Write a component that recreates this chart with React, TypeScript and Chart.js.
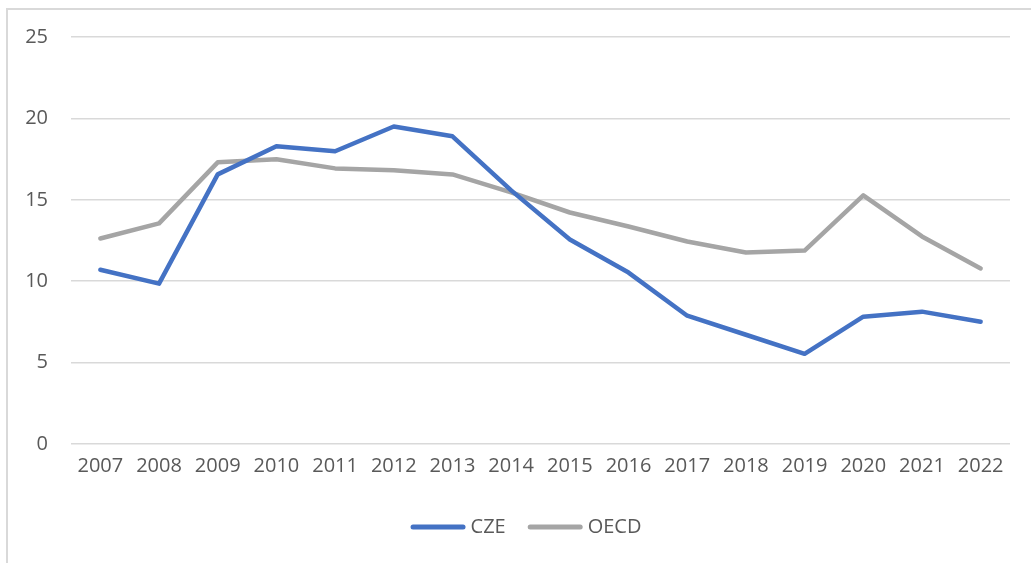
import React, { useEffect, useRef } from "react";
import { Chart, registerables } from "chart.js";

Chart.register(...registerables);

const years = ["2007","2008","2009","2010","2011","2012","2013","2014","2015","2016","2017","2018","2019","2020","2021","2022"];
const cze = [10.7, 9.85, 16.56, 18.29, 17.98, 19.5, 18.9, 15.58, 12.56, 10.53, 7.88, 6.71, 5.54, 7.82, 8.13, 7.51];
const oecd = [12.62, 13.55, 17.3, 17.49, 16.93, 16.81, 16.56, 15.46, 14.22, 13.36, 12.44, 11.76, 11.88, 15.27, 12.75, 10.78];
const yTicks = [0, 5, 10, 15, 20, 25];

const FONT = "'Open Sans', sans-serif";
const TEXT = "#595959";
const GRID = "#d9d9d9";

const legendPlugin = {
  id: "excelLegend",
  afterDraw(chart: any) {
    const ctx = chart.ctx;
    const items = chart.data.datasets.map((d: any) => ({ label: d.label, color: d.borderColor }));
    const lineW = 55;
    const gapText = 5;
    const gapItem = 22;
    const y = 527;
    ctx.save();
    ctx.font = `20px ${FONT}`;
    const widths = items.map((it: any) => lineW + gapText + ctx.measureText(it.label).width);
    const total = widths.reduce((a: number, b: number) => a + b, 0) + gapItem * (items.length - 1);
    let x = 526 - total / 2;
    items.forEach((it: any, i: number) => {
      ctx.strokeStyle = it.color;
      ctx.lineWidth = 5;
      ctx.lineCap = "round";
      ctx.beginPath();
      ctx.moveTo(x + 2.5, y);
      ctx.lineTo(x + lineW - 2.5, y);
      ctx.stroke();
      ctx.fillStyle = TEXT;
      ctx.textBaseline = "middle";
      ctx.textAlign = "left";
      ctx.fillText(it.label, x + lineW + gapText, y);
      x += widths[i] + gapItem;
    });
    ctx.restore();
  },
};

export default function App() {
  const ref = useRef<HTMLCanvasElement | null>(null);
  useEffect(() => {
    if (!ref.current) return;
    const chart = new Chart(ref.current, {
      type: "line",
      data: {
        labels: years,
        datasets: [
          { label: "CZE", data: cze, borderColor: "#4472C4", backgroundColor: "#4472C4", borderWidth: 4.5, pointRadius: 0, tension: 0, borderJoinStyle: "round", borderCapStyle: "round" },
          { label: "OECD", data: oecd, borderColor: "#A5A5A5", backgroundColor: "#A5A5A5", borderWidth: 4.5, pointRadius: 0, tension: 0, borderJoinStyle: "round", borderCapStyle: "round" },
        ],
      },
      options: {
        animation: false,
        responsive: false,
        maintainAspectRatio: false,
        layout: { padding: { left: 0, right: 21, top: 37, bottom: 75 } },
        plugins: {
          tooltip: { enabled: false },
          legend: { display: false },
        },
        scales: {
          x: {
            offset: true,
            grid: { display: false, drawTicks: false },
            border: { display: false },
            ticks: { font: { family: FONT, size: 20 }, color: TEXT, padding: 10, maxRotation: 0, autoSkip: false },
          },
          y: {
            min: 0,
            max: 25,
            afterBuildTicks: (axis: any) => { axis.ticks = yTicks.map((v) => ({ value: v })); },
            afterFit: (axis: any) => { axis.width = 71; },
            grid: { color: GRID, lineWidth: 1.5, drawTicks: false },
            border: { display: false },
            ticks: { font: { family: FONT, size: 20 }, color: TEXT, padding: 23 },
          },
        },
      },
      plugins: [legendPlugin],
    });
    return () => chart.destroy();
  }, []);
  return (
    <div style={{ position: "fixed", left: 0, top: 0, width: 1031, height: 563, overflow: "hidden", background: "#fff" }}>
      <div style={{ position: "absolute", left: 6, top: 8, width: 1100, height: 700, border: "2px solid #d9d9d9" }} />
      <canvas ref={ref} width={1031} height={563} style={{ position: "absolute", left: 0, top: 0 }} />
    </div>
  );
}
